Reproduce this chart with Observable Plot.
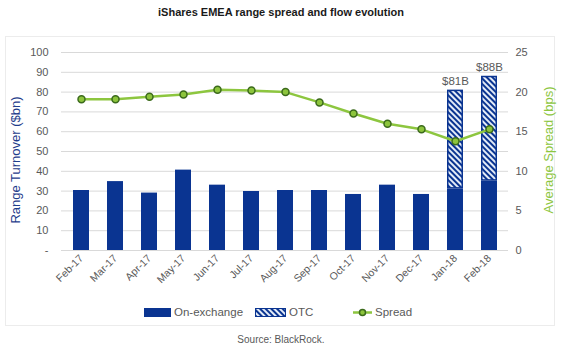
<!DOCTYPE html>
<html>
<head>
<meta charset="utf-8">
<script src="https://cdn.jsdelivr.net/npm/d3@7"></script>
<script src="https://cdn.jsdelivr.net/npm/@observablehq/plot@0.6"></script>
<style>
  html, body { margin: 0; padding: 0; background: #fff; }
  body { width: 562px; height: 350px; position: relative; overflow: hidden; font-family: Arial, "Liberation Sans", sans-serif; }
  #title { position: absolute; left: 0; top: 6px; width: 562px; text-align: center; font-weight: bold; font-size: 11px; color: #1a1a1a; }
  #box { position: absolute; left: 5px; top: 36px; width: 550px; height: 290px; border: 1px solid #ececec; box-sizing: border-box; }
  #chart { position: absolute; left: 0; top: 36px; }
  .ytitle { position: absolute; font-size: 13px; white-space: nowrap; transform-origin: center center; }
  #ltitle { color: #1f3d8c; left: 15px; top: 160px; transform: translate(-50%, -50%) rotate(-90deg); }
  #rtitle { color: #8dc63f; left: 548px; top: 150px; transform: translate(-50%, -50%) rotate(-90deg); }
  #legend { position: absolute; top: 305px; left: 0; width: 562px; font-size: 11.5px; color: #595959; }
  .item { position: absolute; top: 0; display: flex; align-items: center; height: 14px; }
  #source { position: absolute; top: 334px; left: 0; width: 562px; text-align: center; font-size: 10px; color: #595959; }
</style>
</head>
<body>
<div id="title">iShares EMEA range spread and flow evolution</div>
<div id="box"></div>
<div id="chart"></div>
<div class="ytitle" id="ltitle">Range Turnover ($bn)</div>
<div class="ytitle" id="rtitle">Average Spread (bps)</div>
<div id="legend"></div>
<div id="source">Source: BlackRock.</div>
<script>
const months = ["Feb-17","Mar-17","Apr-17","May-17","Jun-17","Jul-17","Aug-17","Sep-17","Oct-17","Nov-17","Dec-17","Jan-18","Feb-18"];
const onExchange = [30.3, 34.8, 29, 40.6, 33, 29.8, 30.3, 30.3, 28.3, 33, 28.3, 31, 35];
const otcVolume = [0, 0, 0, 0, 0, 0, 0, 0, 0, 0, 0, 50, 53];
const spreadBps = [19.1, 19.1, 19.4, 19.7, 20.3, 20.2, 20.0, 18.7, 17.3, 16.0, 15.3, 13.8, 15.3];
const totalLabels = ["", "", "", "", "", "", "", "", "", "", "", "$81B", "$88B"];
const leftTicks = [0, 10, 20, 30, 40, 50, 60, 70, 80, 90, 100];
const rightTicks = [0, 5, 10, 15, 20, 25];

const NAVY = "#0a3491";
const GREEN = "#8dc63f";
const SCALE = 4; // 25 bps <-> 100 $bn

const data = months.map((m, i) => ({
  month: m, on: onExchange[i], otc: otcVolume[i], total: onExchange[i] + otcVolume[i],
  spread: spreadBps[i], label: totalLabels[i]
}));

const chart = Plot.plot({
  width: 562, height: 270,
  marginTop: 16, marginBottom: 56, marginLeft: 61, marginRight: 54,
  style: { fontFamily: "Arial, 'Liberation Sans', sans-serif", fontSize: "11px", color: "#595959", background: "transparent", overflow: "visible" },
  x: { domain: months, paddingInner: 0.54, paddingOuter: 0.27, label: null },
  y: { domain: [0, 100], label: null },
  marks: [
    Plot.gridY(leftTicks.filter(d => d > 0), { stroke: "#d9d9d9", strokeOpacity: 1 }),
    Plot.ruleY([0], { stroke: "#d9d9d9" }),
    Plot.barY(data, { x: "month", y: "on", fill: NAVY }),
    Plot.barY(data.filter(d => d.otc > 0), { x: "month", y1: "on", y2: "total", fill: "url(#hatch)", stroke: NAVY, strokeWidth: 1.5, inset: 0.75 }),
    Plot.line(data, { x: "month", y: d => d.spread * SCALE, stroke: GREEN, strokeWidth: 2.5 }),
    Plot.dot(data, { x: "month", y: d => d.spread * SCALE, r: 3.5, fill: "#8cc43c", stroke: "#3b6a1c", strokeWidth: 1.5 }),
    Plot.text(data.filter(d => d.label), { x: "month", y: "total", text: "label", dy: -9, fontSize: 11.5, fill: "#595959" }),
    Plot.axisX({ tickRotate: -45, tickSize: 0, tickPadding: 6, fontSize: 10.5, label: null }),
    Plot.axisY(leftTicks, { anchor: "left", tickSize: 0, tickPadding: 13, tickFormat: d => d === 0 ? "-" : d, label: null }),
    Plot.axisY(rightTicks.map(d => d * SCALE), { anchor: "right", tickSize: 0, tickPadding: 7, tickFormat: d => d / SCALE, label: null })
  ]
});

const pattern = (id) => `<pattern id="${id}" patternUnits="userSpaceOnUse" width="4" height="4" patternTransform="rotate(-45)"><rect width="4" height="4" fill="${NAVY}"/><rect width="2" height="4" fill="#e3ebf7"/></pattern>`;
chart.insertAdjacentHTML("afterbegin", `<defs>${pattern("hatch")}</defs>`);
document.getElementById("chart").appendChild(chart);

// legend
const legend = document.getElementById("legend");
const items = [
  { x: 144, label: "On-exchange", swatch: `<svg width="27" height="9"><rect width="27" height="9" fill="${NAVY}"/></svg>` },
  { x: 255, label: "OTC", swatch: `<svg width="31" height="9"><defs>${pattern("hatch2")}</defs><rect x="0.5" y="0.5" width="30" height="8" fill="url(#hatch2)" stroke="${NAVY}"/></svg>` },
  { x: 353, label: "Spread", swatch: `<svg width="19" height="9"><line x1="0" x2="19" y1="4.5" y2="4.5" stroke="${GREEN}" stroke-width="2.5"/><circle cx="9.5" cy="4.5" r="3" fill="#8cc43c" stroke="#3b6a1c" stroke-width="1.5"/></svg>` }
];
for (const it of items) {
  const div = document.createElement("div");
  div.className = "item";
  div.style.left = it.x + "px";
  div.innerHTML = it.swatch + `<span style="margin-left:3px">${it.label}</span>`;
  legend.appendChild(div);
}
</script>
</body>
</html>
